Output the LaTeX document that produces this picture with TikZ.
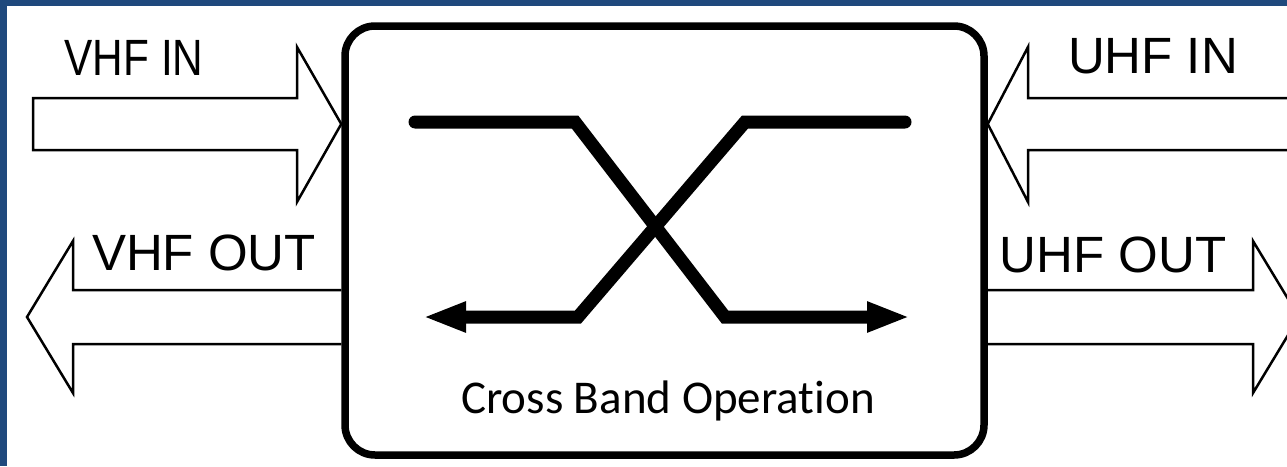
\documentclass[tikz,border=0pt]{standalone}
\usepackage{fontspec}
\setmainfont{Liberation Sans}
\newfontfamily\carlito[Ligatures=NoCommon]{Carlito}
\usetikzlibrary{arrows.meta}
\definecolor{frameblue}{RGB}{31,73,125}
\tikzset{
  bandlabel/.style={font=\fontsize{51}{60}\selectfont, inner sep=0pt, anchor=base},
  blockarrow/.style={line width=2.5pt, line join=miter},
  crossline/.style={line width=13pt, line cap=round, -{Triangle[length=43pt,width=28pt]}}
}
\begin{document}
\begin{tikzpicture}[x=1pt,y=-1pt]
  \useasboundingbox (0,0) rectangle (1287,466);
  \clip (0,0) rectangle (1287,466);

  % Frame
  \fill[frameblue] (0,0) rectangle (1287,466);
  \fill[white] (7,6) rectangle (1287,466);

  % Cross band box
  \node[draw, line width=7.5pt, rounded corners=30pt,
        minimum width=639pt, minimum height=429pt] (xband) at (664.5,240.5) {};
  \node[font=\carlito\fontsize{47}{56}\selectfont, anchor=base, inner sep=0pt]
        (xlabel) at (668,413) {Cross Band Operation};

  % Crossing paths
  \coordinate (vhfA) at (415,122);
  \coordinate (vhfB) at (575,122);
  \coordinate (vhfC) at (725,317);
  \coordinate (uhfD) at (910,317);
  \coordinate (uhfA) at (905,122);
  \coordinate (uhfB) at (745,122);
  \coordinate (uhfC) at (578,317);
  \coordinate (vhfD) at (423,317);
  \draw[crossline] (vhfA) -- (vhfB) -- (vhfC) -- (uhfD);
  \draw[crossline] (uhfA) -- (uhfB) -- (uhfC) -- (vhfD);

  % Block arrows, left side
  \draw[blockarrow] (33,98) -- (297,98) -- (297,47) -- (xband.west |- 0,124)
    -- (297,202) -- (297,150) -- (33,150) -- cycle;
  \draw[blockarrow] (xband.west |- 0,290) -- (73,290) -- (73,241) -- (27,317)
    -- (73,393) -- (73,344) -- (xband.west |- 0,344);

  % Block arrows, right side
  \draw[blockarrow] (1295,98) -- (1028,98) -- (1028,47) -- (xband.east |- 0,124)
    -- (1028,202) -- (1028,150) -- (1295,150);
  \draw[blockarrow] (xband.east |- 0,290) -- (1253,290) -- (1253,241) -- (1299,317)
    -- (1253,393) -- (1253,344) -- (xband.east |- 0,344);

  % Labels
  \node[bandlabel] (vhfin) at (134,75) {\scalebox{0.83}[1]{VHF IN}};
  \node[bandlabel] (vhfout) at (204,270) {VHF OUT};
  \node[bandlabel] (uhfin) at (1153,73) {UHF IN};
  \node[bandlabel] (uhfout) at (1113,272) {UHF OUT};
\end{tikzpicture}
\end{document}
